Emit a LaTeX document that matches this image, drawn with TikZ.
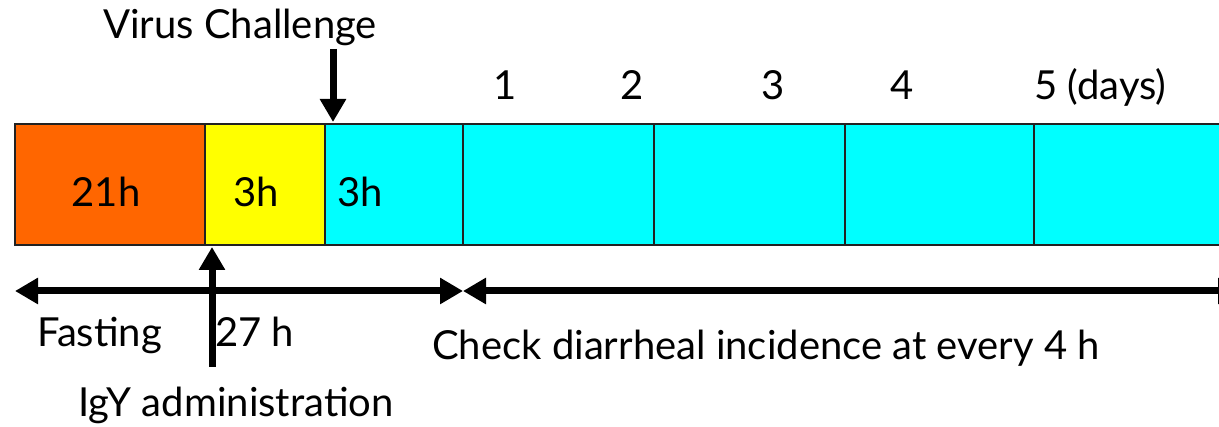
\documentclass[tikz,border=0pt]{standalone}
\usepackage{fontspec}
\setmainfont{Lato}
\usetikzlibrary{arrows.meta}
\definecolor{fastorange}{HTML}{FF6600}
\definecolor{igyyellow}{HTML}{FFFF00}
\definecolor{watchcyan}{HTML}{00FFFF}
\definecolor{edgegray}{HTML}{222222}
\begin{document}
\begin{tikzpicture}[x=1pt,y=-1pt,
  seg/.style={draw=edgegray, line width=2pt, minimum height=121pt,
    inner sep=0pt, outer sep=0pt, anchor=north west},
  lbl/.style={font=\fontsize{40}{48}\selectfont, inner sep=0pt},
  bigarrow/.style={line width=7pt, -{Triangle[length=23pt,width=25pt]}},
  spanarrow/.style={line width=7pt,
    {Triangle[length=23pt,width=25pt]}-{Triangle[length=23pt,width=25pt]}}
]
\useasboundingbox (0,0) rectangle (1219,427);
\clip (0,0) rectangle (1219,427);

% timeline segments
\node[seg, fill=fastorange, minimum width=190pt] (s1) at (15,124) {};
\node[seg, fill=igyyellow,  minimum width=120pt] (s2) at (205,124) {};
\node[seg, fill=watchcyan,  minimum width=138pt] (s3) at (325,124) {};
\node[seg, fill=watchcyan,  minimum width=191pt] (d1) at (463,124) {};
\node[seg, fill=watchcyan,  minimum width=191pt] (d2) at (654,124) {};
\node[seg, fill=watchcyan,  minimum width=189pt] (d3) at (845,124) {};
\node[seg, fill=watchcyan,  minimum width=200pt] (d4) at (1034,124) {};

% segment labels
\node[lbl, anchor=base] (t1) at (106,207) {21h};
\node[lbl, anchor=base] (t2) at (256,207) {3h};
\node[lbl, anchor=base] (t3) at (360,207) {3h};

% day marks
\node[lbl, anchor=base] (m1) at (505,100) {1};
\node[lbl, anchor=base] (m2) at (632,100) {2};
\node[lbl, anchor=base] (m3) at (773,100) {3};
\node[lbl, anchor=base] (m4) at (902,100) {4};
\node[lbl, anchor=base west] (m5) at (1034,100) {5 (days)};

% virus challenge marker
\node[lbl, anchor=base] (vc) at (240,39) {Virus Challenge};
\coordinate (vtop) at (333,49);
\coordinate (vtip) at (333,122);
\draw[bigarrow] (vtop) -- (vtip);

% IgY administration marker
\node[lbl, anchor=base] (igy) at (236,417) {IgY administration};
\coordinate (ibot) at (212,367);
\coordinate (itip) at (212,247);
\draw[bigarrow] (ibot) -- (itip);

% period spans
\coordinate (pa) at (15,291);
\coordinate (pb) at (463,291);
\coordinate (pc) at (1241,291);
\draw[spanarrow] (pa) -- (pb);
\draw[spanarrow] (pb) -- (pc);

\node[lbl, anchor=base west] (fast) at (37,347) {Fasting};
\node[lbl, anchor=base west] (dur) at (215,347) {27 h};
\node[lbl, anchor=base west] (chk) at (432,360) {Check diarrheal incidence at every 4 h};
\end{tikzpicture}
\end{document}
